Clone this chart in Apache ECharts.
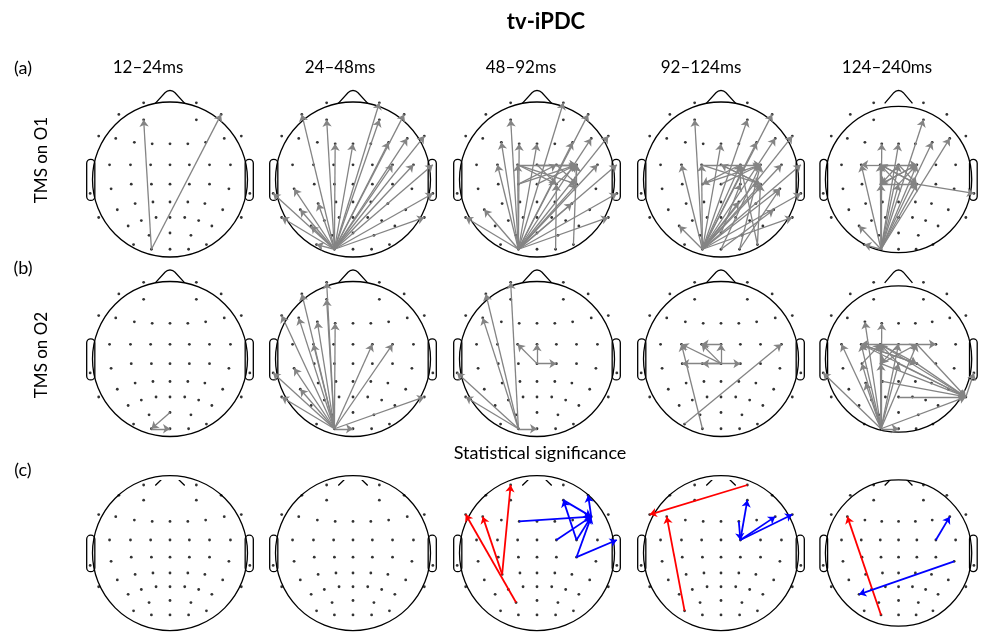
<!DOCTYPE html>
<html><head><meta charset="utf-8">
<script src="https://cdn.jsdelivr.net/npm/echarts@6/dist/echarts.min.js"></script>
<style>html,body{margin:0;padding:0;background:#fff}#c{width:990px;height:639px}</style>
</head><body><div id="c"></div>
<script>
// ---- electrode layout (normalised head coordinates, head radius = 1) ----
const electrodes = [
  ['Fp1',-0.34,0.99],['Fp2',0.34,0.99],
  ['AF7',-0.66,0.84],['AF8',0.66,0.84],['AF3',-0.34,0.77],['AF4',0.34,0.77],
  ['F7',-0.92,0.56],['F8',0.92,0.56],['F5',-0.70,0.53],['F6',0.70,0.53],
  ['F3',-0.46,0.48],['F4',0.46,0.48],['F1',-0.23,0.46],['Fz',0,0.46],['F2',0.23,0.46],
  ['FC5',-0.78,0.19],['FC3',-0.51,0.19],['FC1',-0.25,0.19],['FCz',0,0.19],['FC2',0.25,0.19],['FC4',0.51,0.19],['FC6',0.78,0.19],
  ['T7',-1.03,-0.18],['T8',1.03,-0.18],
  ['C5',-0.76,-0.12],['C3',-0.50,-0.06],['C1',-0.24,-0.06],['Cz',0,-0.06],['C2',0.25,-0.06],['C4',0.51,-0.06],['C6',0.76,-0.12],
  ['CP5',-0.68,-0.39],['CP3',-0.45,-0.31],['CP1',-0.22,-0.29],['CPz',0,-0.29],['CP2',0.23,-0.29],['CP4',0.45,-0.31],['CP6',0.68,-0.39],
  ['TP7',-0.92,-0.49],['TP8',0.92,-0.49],
  ['P5',-0.54,-0.60],['P3',-0.37,-0.53],['P1',-0.18,-0.49],['Pz',0,-0.49],['P2',0.19,-0.49],['P4',0.37,-0.53],['P6',0.54,-0.60],
  ['PO7',-0.47,-0.84],['PO3',-0.27,-0.72],['POz',0,-0.69],['PO4',0.27,-0.72],['PO8',0.47,-0.84],
  ['O1',-0.24,-0.90],['Oz',0,-0.90],['O2',0.24,-0.90]
];
const hiddenSites = [['FT7',-1.03,0.19],['FT8',1.03,0.19]];

const columnLabels = ['12\u201324ms','24\u201348ms','48\u201392ms','92\u2013124ms','124\u2013240ms'];
const rowLetters = ['(a)','(b)','(c)'];
const rowNames = ['TMS on O1','TMS on O2'];
const chartTitle = 'tv-iPDC';
const sectionTitle = 'Statistical significance';

// ---- connections [source, target] ----
const arrowsA1 = [['O1','AF3'],['O1','AF8']];
const arrowsA2 = [['O1','AF7'],['O1','AF3'],['O1','F1'],['O1','Fz'],['O1','Fp2'],['O1','AF4'],['O1','AF8'],['O1','F4'],['O1','F6'],['O1','F8'],['O1','FC4'],['O1','FC6'],['O1','FT8'],['O1','T8'],['O1','TP8'],['O1','C5'],['O1','T7'],['O1','TP7'],['O1','CP5'],['O1','P5'],['O1','PO7'],['O1','CP3']];
const arrowsA3 = [['O1','AF3'],['O1','F3'],['O1','F1'],['O1','Fz'],['O1','FC3'],['O1','CP5'],['O1','TP7'],['O1','Fp2'],['O1','AF8'],['O1','F4'],['O1','F6'],['O1','F8'],['O1','FC6'],['O1','FT8'],['O1','T8'],['O1','TP8'],['O1','FC1'],['O1','C4'],['O1','CP4'],
  ['PO8','FC4'],['O2','C2'],['FC1','FC4'],['FC1','C4'],['FCz','FC4'],['Cz','FC4'],['C2','FC4'],['C1','FC2'],['FC2','C4'],['C4','FC4'],['FCz','C2'],['C1','FC4'],['FC1','C2']];
const arrowsA4 = [['O1','AF3'],['O1','FC3'],['O1','Fz'],['O1','AF4'],['O1','AF8'],['O1','F4'],['O1','F6'],['O1','F8'],['O1','FC6'],['O1','FT8'],['O1','C6'],['O1','T8'],['O1','TP8'],['O1','P5'],['O1','FC1'],['O1','FC2'],['O1','C4'],['O1','CP2'],
  ['Oz','FC4'],['Oz','CP6'],['O2','C6'],['O2','FC4'],['PO8','C4'],['PO8','FC2'],['POz','C2'],
  ['FC1','FC4'],['FC1','C4'],['C1','FC4'],['FCz','C4'],['Cz','FC4'],['C2','FC2'],['FC2','C1'],['C4','FCz']];
const arrowsA5 = [['O1','FC3'],['O1','F1'],['O1','Fz'],['O1','AF4'],['O1','F4'],['O1','F6'],['O1','P5'],['O1','PO7'],['O1','FC1'],['O1','FCz'],['O1','FC2'],['O1','C1'],['O1','Cz'],['O1','C2'],
  ['C2','T8'],['FC1','FC3'],['FC1','FC2'],['FC1','C2'],['C1','FC2'],['FCz','C1'],['Cz','FC1'],['C2','FC1'],['FC2','C1'],['C1','C2'],['FCz','C2'],['Cz','FC2']];
const arrowsB1 = [['POz','O1'],['O1','Oz']];
const arrowsB2 = [['O1','Fp1'],['O1','AF7'],['O1','AF3'],['O1','F7'],['O1','F5'],['O1','F3'],['O1','FC2'],['O1','FC4'],['O1','TP8'],['O1','T7'],['O1','TP7'],['O1','C5'],['O1','CP5'],['O1','F1'],['O1','FC3'],['O1','Oz']];
const arrowsB3 = [['O1','Fp1'],['O1','AF7'],['O1','F5'],['O1','T7'],['O1','TP7'],['O1','Oz'],['Cz','FC1'],['Cz','FCz'],['Cz','C2']];
const arrowsB4 = [['O1','FC3'],['PO7','FC6'],['Cz','FC3'],['Cz','FC1'],['FCz','FC1'],['Cz','FCz'],['Cz','C2'],['Cz','C1'],['Cz','C3']];
const arrowsB5 = [['O1','F3'],['O1','F1'],['O1','FC5'],['O1','T7'],['O1','TP8'],['O1','Oz'],['O1','FC1'],['O1','FCz'],['O1','FC2'],['O1','C1'],['O1','Cz'],['O1','C3'],['O1','FC3'],['O1','CP3'],
  ['FC3','C2'],['C2','FC3'],['FC1','C2'],['C1','FC2'],['Cz','FC1'],['FCz','C1'],['FC2','FC3'],['C3','FC1'],
  ['FC3','TP8'],['FC1','TP8'],['C1','TP8'],['Cz','TP8'],['FC2','TP8'],['C2','TP8'],['Pz','TP8'],['CP1','TP8'],['FC2','FC4'],['TP8','T8']];
const redC3 = [['PO3','F7'],['CP3','F5'],['CP3','Fp1']];
const blueC3 = [['F1','F6'],['FC2','F6'],['FC4','F6'],['AF4','F6'],['C4','F6'],['FC4','AF4'],['F6','AF8'],['C4','FT8']];
const redC4 = [['PO7','F5'],['Fp2','F7']];
const blueC4 = [['FC2','AF4'],['FC2','F6'],['FC2','F8'],['F2','FC2']];
const redC5 = [['O1','F5']];
const blueC5 = [['FC4','F6'],['C6','P5']];

const panels = [
  [{gray:arrowsA1},{gray:arrowsA2},{gray:arrowsA3},{gray:arrowsA4},{gray:arrowsA5}],
  [{gray:arrowsB1},{gray:arrowsB2},{gray:arrowsB3},{gray:arrowsB4},{gray:arrowsB5}],
  [{},{},{red:redC3,blue:blueC3},{red:redC4,blue:blueC4},{red:redC5,blue:blueC5}]
];

// ---- layout ----
const colCenters = [170,353,537,721,904];
const rowCenters = [179.5,359,564];
const rowClipTop = [0,0,480];   // the significance row is cut just above its noses
const R = 77.5, SPAN = 1.25;
const FONT = 'Lato, "Open Sans", sans-serif';

const pos = {};
electrodes.concat(hiddenSites).forEach(e => { pos[e[0]] = [e[1], e[2]]; });

function makeHead(clipTop) {
  return function (params, api) {
    const c = api.coord([0,0]);
    const r = api.size([1,1])[0];
    const P = (x,y) => api.coord([x,y]);
    const st = {stroke:'#000', fill:null, lineWidth:1.3};
    const nose = [[-0.19,0.982],[-0.065,1.12],[-0.035,1.142],[0,1.15],[0.035,1.142],[0.065,1.12],[0.19,0.982]];
    const nosePts = nose.map(p => P(p[0],p[1]));
    const noseEl = {type:'polyline', shape:{points:nosePts}, style:st};
    if (clipTop) {
      noseEl.clipPath = {type:'rect', shape:{x:c[0]-r, y:clipTop, width:2*r, height:c[1]-clipTop}};
    }
    const children = [
      {type:'circle', shape:{cx:c[0], cy:c[1], r:r}, style:st},
      noseEl
    ];
    [-1,1].forEach(s => {
      const a = P(s*1.075, 0.26), b = P(s*0.97, -0.27);
      children.push({type:'rect', shape:{x:Math.min(a[0],b[0]), y:a[1], width:Math.abs(b[0]-a[0]), height:b[1]-a[1], r:4}, style:st});
    });
    return {type:'group', children};
  };
}

const grid = [], xAxis = [], yAxis = [], series = [];
let gi = 0;
panels.forEach((row, ri) => row.forEach((p, ci) => {
  const cx = colCenters[ci], cy = rowCenters[ri], S = SPAN * R;
  grid.push({left:cx - S, top:cy - S, width:2*S, height:2*S, containLabel:false});
  xAxis.push({type:'value', gridIndex:gi, min:-SPAN, max:SPAN, show:false});
  yAxis.push({type:'value', gridIndex:gi, min:-SPAN, max:SPAN, show:false});
  series.push({type:'custom', xAxisIndex:gi, yAxisIndex:gi, data:[[0,0]], renderItem:makeHead(rowClipTop[ri]), clip:false, silent:true, z:1});
  series.push({type:'scatter', xAxisIndex:gi, yAxisIndex:gi, data:electrodes.map(e => [e[1],e[2]]),
    symbolSize:2.8, itemStyle:{color:'#000'}, silent:true, z:2});
  const addLines = (list, color, width) => {
    if (!list || !list.length) return;
    series.push({type:'lines', coordinateSystem:'cartesian2d', xAxisIndex:gi, yAxisIndex:gi,
      symbol:['none','arrow'], symbolSize:7, silent:true, z:3,
      lineStyle:{color, width, opacity:1},
      data:list.map(([a,b]) => ({coords:[pos[a], pos[b]]}))});
  };
  addLines(p.gray, '#848484', 1.3);
  addLines(p.red, '#ff0000', 1.8);
  addLines(p.blue, '#0000ff', 1.8);
  gi++;
}));

const txt = (x, y, text, size, weight, rot) => ({type:'text', x, y, rotation:rot || 0, silent:true,
  style:{text, fill:'#000', font:(weight||'normal') + ' ' + size + 'px ' + FONT, align:'center', verticalAlign:'middle'}});
const graphic = [txt(546, 22, chartTitle, 22, 'bold')];
const headerX = [148,340,521,701,887];
columnLabels.forEach((t,i) => graphic.push(txt(headerX[i], 68, t, 17)));
const letterY = [68,268,470];
rowLetters.forEach((t,i) => graphic.push(txt(23, letterY[i], t, 18)));
const nameY = [160,355];
rowNames.forEach((t,i) => graphic.push(txt(42, nameY[i], t, 17, 'normal', Math.PI/2)));
graphic.push(txt(540, 453, sectionTitle, 18));

const chart = echarts.init(document.getElementById('c'), null, {renderer:'canvas'});
chart.setOption({animation:false, backgroundColor:'#fff', grid, xAxis, yAxis, series, graphic});
</script></body></html>
